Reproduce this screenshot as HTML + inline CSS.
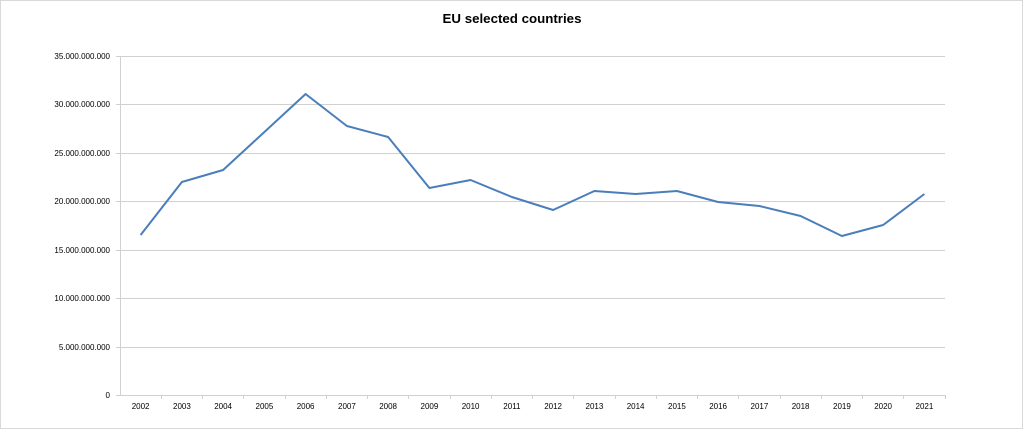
<!DOCTYPE html><html><head><style>body{margin:0;background:#fff}svg{display:block}</style></head><body>
<svg width="1024" height="430" xmlns="http://www.w3.org/2000/svg" font-family="Liberation Sans, sans-serif">
<rect x="0.5" y="0.5" width="1022" height="428" fill="#fff" stroke="#d9d9d9"/>
<text x="512" y="23" text-anchor="middle" font-size="13.3" font-weight="bold" fill="#000">EU selected countries</text>
<g stroke="#d0d0d0" stroke-width="1">
<line x1="116" y1="56.5" x2="945" y2="56.5"/><line x1="116" y1="104.5" x2="945" y2="104.5"/><line x1="116" y1="153.5" x2="945" y2="153.5"/><line x1="116" y1="201.5" x2="945" y2="201.5"/><line x1="116" y1="250.5" x2="945" y2="250.5"/><line x1="116" y1="298.5" x2="945" y2="298.5"/><line x1="116" y1="347.5" x2="945" y2="347.5"/><line x1="116" y1="395.5" x2="945" y2="395.5"/>
<line x1="120.5" y1="56" x2="120.5" y2="395"/>
</g>
<g font-size="8" fill="#000" text-anchor="end">
<text x="110" y="59">35.000.000.000</text><text x="110" y="107">30.000.000.000</text><text x="110" y="156">25.000.000.000</text><text x="110" y="204">20.000.000.000</text><text x="110" y="253">15.000.000.000</text><text x="110" y="301">10.000.000.000</text><text x="110" y="350">5.000.000.000</text><text x="110" y="398">0</text>
</g>
<g font-size="8" fill="#000" text-anchor="middle">
<text x="140.6" y="409">2002</text><text x="181.9" y="409">2003</text><text x="223.1" y="409">2004</text><text x="264.4" y="409">2005</text><text x="305.6" y="409">2006</text><text x="346.9" y="409">2007</text><text x="388.1" y="409">2008</text><text x="429.4" y="409">2009</text><text x="470.6" y="409">2010</text><text x="511.9" y="409">2011</text><text x="553.1" y="409">2012</text><text x="594.4" y="409">2013</text><text x="635.6" y="409">2014</text><text x="676.9" y="409">2015</text><text x="718.1" y="409">2016</text><text x="759.4" y="409">2017</text><text x="800.6" y="409">2018</text><text x="841.9" y="409">2019</text><text x="883.1" y="409">2020</text><text x="924.4" y="409">2021</text>
</g>
<path stroke="#d0d0d0" d="M161.5 395v4M202.5 395v4M243.5 395v4M285.5 395v4M326.5 395v4M367.5 395v4M408.5 395v4M450.5 395v4M491.5 395v4M532.5 395v4M573.5 395v4M615.5 395v4M656.5 395v4M697.5 395v4M738.5 395v4M780.5 395v4M821.5 395v4M862.5 395v4M903.5 395v4M945.5 395v4"/>
<polyline fill="none" stroke="#4a7ebb" stroke-width="2" stroke-linejoin="round" points="140.6,235 181.9,182 223.1,170 264.4,132 305.6,94 346.9,126 388.1,137 429.4,188 470.6,180 511.9,197 553.1,210 594.4,191 635.6,194 676.9,191 718.1,202 759.4,206 800.6,216 841.9,236 883.1,225 924.4,194"/>
</svg></body></html>
